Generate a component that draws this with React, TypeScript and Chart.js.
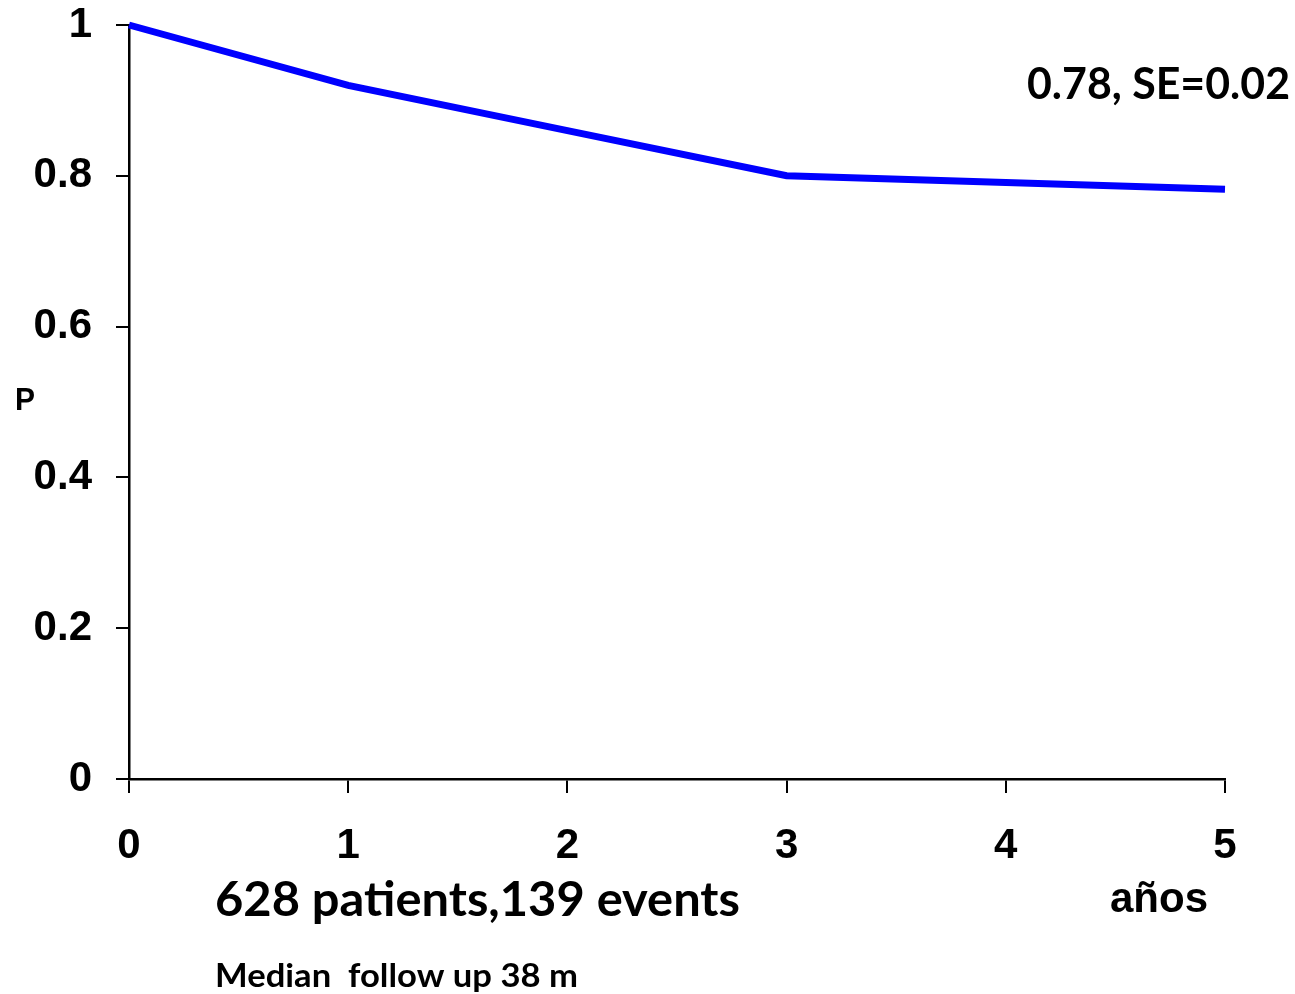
import React, { useEffect, useRef } from "react";
import { Chart, registerables } from "chart.js";

Chart.register(...registerables);

const years = [0, 1, 2, 3, 4, 5];
const survival = [1, 0.92, 0.86, 0.8, 0.791, 0.782];
const yTicks = [0, 0.2, 0.4, 0.6, 0.8, 1];
const xTicks = [0, 1, 2, 3, 4, 5];
const seText = "0.78, SE=0.02";
const countText = "628 patients,139 events";
const followText = "Median  follow up 38 m";
const xTitle = "años";
const yTitle = "P";

const ARIAL = '"Liberation Sans", Arial, sans-serif';
const CAL = 'Lato, "Open Sans", sans-serif';

function drawFitted(
  ctx: CanvasRenderingContext2D,
  text: string,
  family: string,
  size: number,
  x: number,
  y: number,
  width: number
) {
  ctx.save();
  ctx.font = `bold ${size}px ${family}`;
  ctx.fillStyle = "#000";
  ctx.textBaseline = "alphabetic";
  ctx.textAlign = "left";
  const w = ctx.measureText(text).width;
  ctx.translate(x, y);
  ctx.scale(width / w, 1);
  ctx.fillText(text, 0, 0);
  ctx.restore();
}

const textPlugin = {
  id: "texts",
  afterDraw(chart: any) {
    const ctx = chart.ctx as CanvasRenderingContext2D;
    drawFitted(ctx, seText, CAL, 43, 1027, 99, 263);
    drawFitted(ctx, countText, CAL, 47, 215, 916, 525);
    drawFitted(ctx, followText, CAL, 33, 215, 987, 363);
    drawFitted(ctx, xTitle, ARIAL, 42, 1110, 912, 98);
    drawFitted(ctx, yTitle, ARIAL, 31, 15, 410, 20);
  },
};

export default function App() {
  const ref = useRef<HTMLCanvasElement>(null);
  useEffect(() => {
    document.body.style.margin = "0";
    const chart = new Chart(ref.current!, {
      type: "line",
      data: {
        datasets: [
          {
            data: years.map((x, i) => ({ x, y: survival[i] })),
            borderColor: "#0000FF",
            borderWidth: 7,
            pointRadius: 0,
            tension: 0,
            fill: false,
            clip: false,
          },
        ],
      },
      options: {
        responsive: false,
        animation: false,
        layout: { padding: { left: 0, top: 25, right: 70, bottom: 115 } },
        plugins: { legend: { display: false }, tooltip: { enabled: false } },
        scales: {
          x: {
            type: "linear",
            min: 0,
            max: 5,
            afterFit: (s: any) => {
              s.height = 100;
              s.paddingLeft = 0;
              s.paddingRight = 0;
              s.paddingTop = 0;
              s.paddingBottom = 0;
            },
            afterBuildTicks: (s: any) => {
              s.ticks = xTicks.map((v) => ({ value: v }));
            },
            grid: {
              drawOnChartArea: false,
              drawTicks: true,
              tickLength: 14,
              color: "#000",
              lineWidth: 2,
            },
            border: { display: true, color: "#000", width: 2.5 },
            ticks: {
              color: "#000",
              padding: 28,
              callback: (v: any) => String(v),
              font: { family: ARIAL, size: 42, weight: "bold" },
            },
          },
          y: {
            min: 0,
            max: 1,
            afterFit: (s: any) => {
              s.width = 129;
              s.paddingLeft = 0;
              s.paddingRight = 0;
              s.paddingTop = 0;
              s.paddingBottom = 0;
            },
            afterBuildTicks: (s: any) => {
              s.ticks = yTicks.map((v) => ({ value: v }));
            },
            grid: {
              drawOnChartArea: false,
              drawTicks: true,
              tickLength: 13,
              color: "#000",
              lineWidth: 2,
            },
            border: { display: true, color: "#000", width: 2.5 },
            ticks: {
              color: "#000",
              padding: 24,
              callback: (v: any) => String(v),
              font: { family: ARIAL, size: 42, weight: "bold" },
            },
          },
        },
      },
      plugins: [textPlugin],
    } as any);
    return () => chart.destroy();
  }, []);
  return (
    <div style={{ position: "absolute", left: 0, top: 0, width: 1295, height: 994, background: "#fff" }}>
      <canvas ref={ref} width={1295} height={994} />
    </div>
  );
}
